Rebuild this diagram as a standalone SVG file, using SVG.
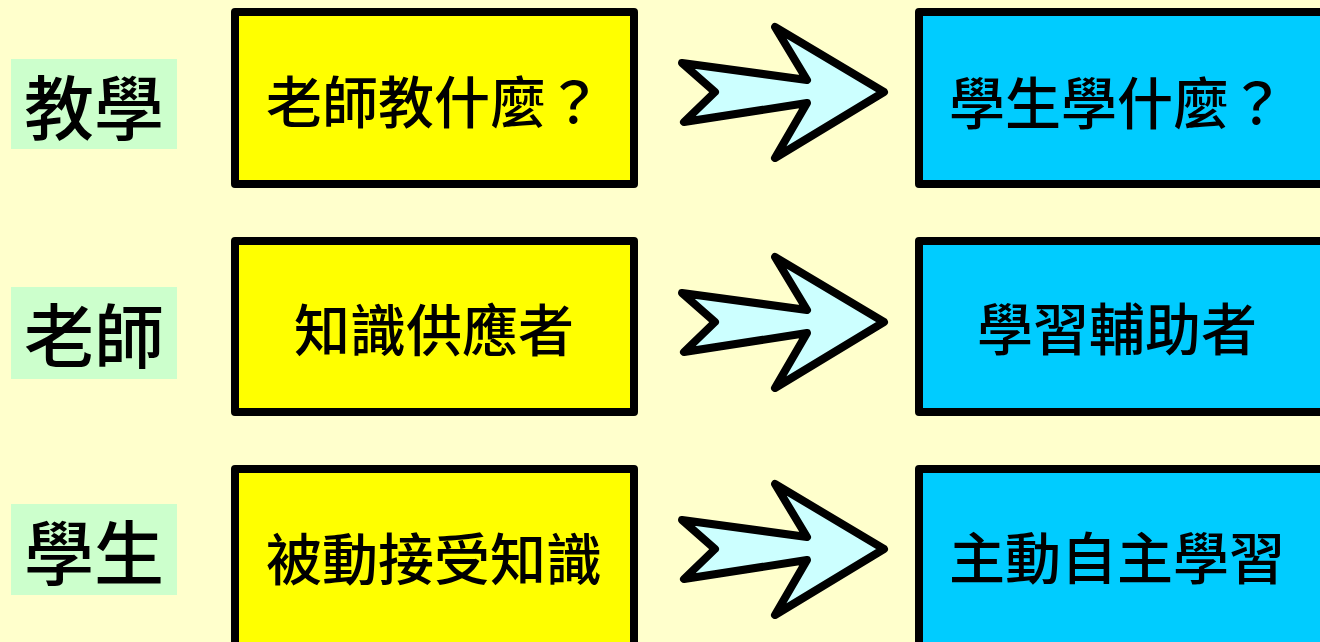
<svg xmlns="http://www.w3.org/2000/svg" xmlns:xlink="http://www.w3.org/1999/xlink" width="1320" height="642" viewBox="0 0 1320 642">
<style>
.bg{fill:#ffffcc}
.lab{fill:#ccffcc}
.ybox{fill:#ffff00;stroke:#000;stroke-width:8;stroke-linejoin:round}
.bbox{fill:#00ccff;stroke:#000;stroke-width:8;stroke-linejoin:round}
.arr{fill:#ccffff;stroke:#000;stroke-width:8;stroke-linejoin:round}
text{font-family:"Noto Sans CJK TC","Noto Sans CJK SC",sans-serif;font-weight:500;fill:#000;text-anchor:middle;dominant-baseline:central}
.lt{font-size:70px}
.bt{font-size:56px}
</style>
<defs>
<path id="arrow" class="arr" d="M682,-29 L715,0 L684,30 L807,11 L775,66 L884,0 L775,-65 L807,-12 Z"/>
</defs>
<rect class="bg" x="0" y="0" width="1320" height="642"/>
<g id="label-teaching"><rect class="lab" x="11" y="59" width="166" height="90"/><text class="lt" x="94" y="104">教學</text></g>
<g id="label-teacher"><rect class="lab" x="11" y="287" width="166" height="92"/><text class="lt" x="94" y="332">老師</text></g>
<g id="label-student"><rect class="lab" x="11" y="504" width="166" height="91"/><text class="lt" x="94" y="549">學生</text></g>
<g id="old-1"><rect class="ybox" x="235" y="12" width="399" height="172"/><text class="bt" x="434" y="98">老師教什麼？</text></g>
<g id="old-2"><rect class="ybox" x="235" y="241" width="399" height="171"/><text class="bt" x="434" y="326">知識供應者</text></g>
<g id="old-3"><rect class="ybox" x="235" y="469" width="399" height="180"/><text class="bt" x="434" y="555">被動接受知識</text></g>
<g id="new-1"><rect class="bbox" x="919" y="12" width="420" height="172"/><text class="bt" x="1117" y="99">學生學什麼？</text></g>
<g id="new-2"><rect class="bbox" x="919" y="241" width="420" height="171"/><text class="bt" x="1117" y="325">學習輔助者</text></g>
<g id="new-3"><rect class="bbox" x="919" y="469" width="420" height="180"/><text class="bt" x="1117" y="554">主動自主學習</text></g>
<g id="connectors">
<use xlink:href="#arrow" href="#arrow" transform="translate(0,92)"/>
<use xlink:href="#arrow" href="#arrow" transform="translate(0,322)"/>
<use xlink:href="#arrow" href="#arrow" transform="translate(0,549)"/>
</g>
</svg>
